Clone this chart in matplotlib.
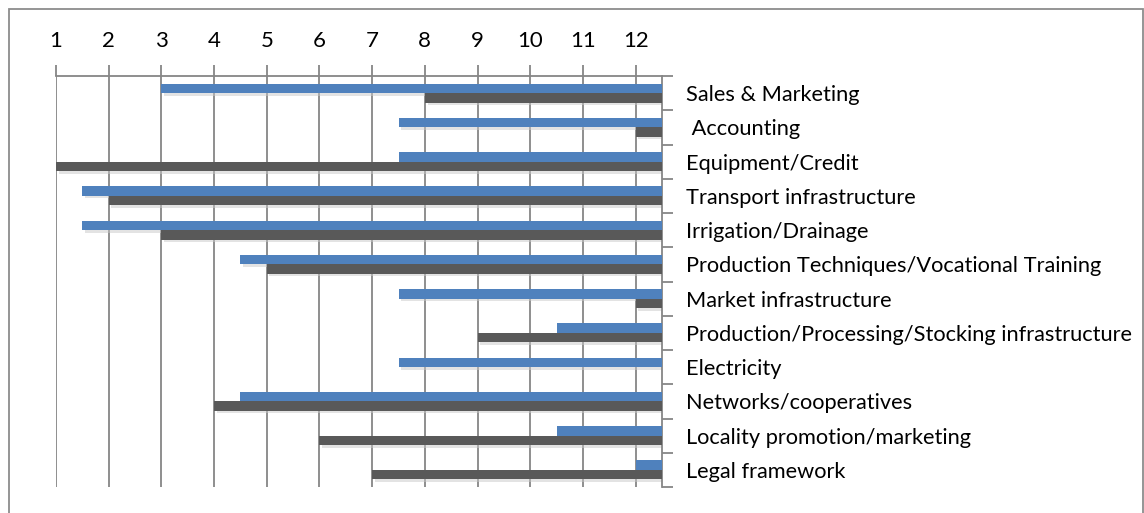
import matplotlib
matplotlib.use("Agg")
import matplotlib.pyplot as plt
import numpy as np

categories = ["Sales & Marketing", " Accounting", "Equipment/Credit",
              "Transport infrastructure", "Irrigation/Drainage",
              "Production Techniques/Vocational Training", "Market infrastructure",
              "Production/Processing/Stocking infrastructure", "Electricity",
              "Networks/cooperatives", "Locality promotion/marketing", "Legal framework"]
blue_start = [3, 7.5, 7.5, 1.5, 1.5, 4.5, 7.5, 10.5, 7.5, 4.5, 10.5, 12]
gray_start = [8, 12, 1, 2, 3, 5, 12, 9, np.nan, 4, 6, 7]
xticks = list(range(1, 13))
x_end = 12.5

plt.rcParams['font.family'] = ['Lato', 'DejaVu Sans']

fig = plt.figure(figsize=(11.44, 5.13), dpi=100)
ax = fig.add_axes([56/1144, 1-487/513, (662-56)/1144, (487-76)/513])

# outer chart border
fig.patches.append(plt.Rectangle((9/1144, -0.05), (1143-9)/1144, 1.05-9/513,
                                 transform=fig.transFigure, fill=False,
                                 edgecolor="#8c8c8c", lw=1.3))

y = np.arange(len(categories))
blue = np.array(blue_start, dtype=float)
gray = np.array(gray_start, dtype=float)
ok = np.isfinite(gray)
h = 0.28

# soft shadows
ax.barh(y - 0.14 + 0.07, x_end - blue, left=blue + 0.05, height=h, color="#c8c8c8", alpha=0.5, zorder=2)
ax.barh(y[ok] + 0.14 + 0.07, x_end - gray[ok], left=gray[ok] + 0.05, height=h, color="#c8c8c8", alpha=0.5, zorder=2)

ax.barh(y - 0.14, x_end - blue, left=blue, height=h, color="#4f81bd", zorder=3)
ax.barh(y[ok] + 0.14, x_end - gray[ok], left=gray[ok], height=h, color="#595959", zorder=3)

ax.set_xlim(1, x_end)
ax.set_ylim(len(categories) - 0.5, -0.5)

ax.xaxis.tick_top()
ax.set_xticks(xticks)
ax.tick_params(axis='x', direction='out', length=8, width=1.3, color="#868686",
               labelsize=16, pad=10)
ax.grid(axis='x', color="#868686", lw=1.3, zorder=1)

ax.yaxis.tick_right()
ax.set_yticks(y)
ax.set_yticklabels(categories)
ax.set_yticks(np.arange(len(categories) + 1) - 0.5, minor=True)
ax.tick_params(axis='y', which='major', length=0, labelsize=15.7, pad=17.3)
ax.tick_params(axis='y', which='minor', direction='out', length=8, width=1.3, color="#868686")

for s in ['left', 'bottom']:
    ax.spines[s].set_visible(False)
for s in ['top', 'right']:
    ax.spines[s].set_color("#868686")
    ax.spines[s].set_linewidth(1.3)

fig.savefig("out.png", dpi=100)
